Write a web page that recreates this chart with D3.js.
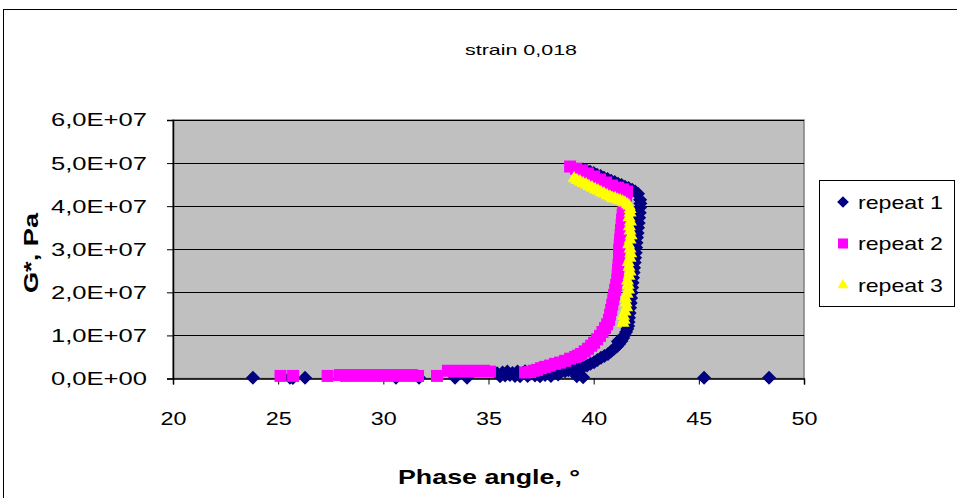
<!DOCTYPE html>
<html>
<head>
<meta charset="utf-8">
<script src="https://cdn.jsdelivr.net/npm/d3@7"></script>
<style>
  body { margin: 0; background: #fff; }
  text { font-family: "Liberation Sans", Arial, sans-serif; fill: #000; }
</style>
</head>
<body>
<svg width="957" height="498"></svg>
<script>
// phase angle (deg), G* (MPa)
var rep1 = [[23.80,0.2],[25.56,0.2],[25.70,0.1],[26.28,0.2],[30.60,0.2],[31.70,0.2],[33.41,0.2],[33.98,0.2],
  [35.41,1.2],[35.55,0.5],[35.67,1.4],[35.79,0.7],[35.90,1.6],[36.02,0.8],[36.14,1.3],[36.26,0.6],[36.38,1.6],[36.50,0.5],
  [36.62,1.2],[36.74,1.7],[36.86,0.6],[36.98,1.1],[37.10,1.6],[37.21,0.7],[37.33,1.3],[37.45,0.5],[37.57,1.6],[37.69,0.8],
  [37.83,1.5],[37.97,0.6],[38.14,1.4],[38.31,0.9],[38.47,1.6],[38.64,1.7],[38.80,1.9],[38.97,2.0],[39.16,2.2],[39.20,0.5],
  [39.35,2.4],[39.50,0.3],[39.52,2.7],[39.69,3.0],[39.85,3.4],[40.02,3.8],[40.18,4.3],[40.35,4.8],[40.51,5.2],[40.68,5.7],
  [40.83,6.3],[40.97,6.9],[41.10,7.4],[41.21,8.0],[41.15,8.6],[41.32,8.7],[41.40,9.4],[41.47,10.1],[41.54,10.8],[41.60,11.5],
  [41.64,12.2],[41.66,13.1],[41.68,14.1],[41.71,15.2],[41.73,16.4],[41.76,17.5],[41.78,18.7],[41.81,19.9],[41.83,21.1],
  [41.85,22.2],[41.87,23.4],[41.90,24.6],[41.92,25.7],[41.95,26.9],[41.97,28.0],[42.00,29.2],[42.02,30.4],[42.04,31.5],
  [42.06,32.7],[42.09,33.8],[42.11,35.0],[42.14,36.1],[42.16,37.3],[42.19,38.5],[42.21,39.7],[42.22,40.6],[42.21,41.5],
  [42.11,42.9],[41.97,43.4],[41.83,43.8],[41.66,44.2],[41.49,44.5],[41.33,44.9],[41.16,45.2],[41.00,45.6],[40.83,45.9],
  [40.66,46.3],[40.49,46.6],[40.33,47.0],[40.16,47.3],[40.00,47.7],[39.83,48.0],[39.66,48.3],[39.50,48.5],
  [45.25,0.2],[48.34,0.2]];

var rep2 = [[25.11,0.6],[25.71,0.6],[27.35,0.6],[27.94,0.8],[28.23,0.6],[28.51,0.8],[28.80,0.6],[29.08,0.8],[29.37,0.6],
  [29.65,0.8],[29.94,0.6],[30.22,0.8],[30.51,0.6],[30.79,0.8],[31.08,0.6],[31.36,0.8],[31.65,0.6],[32.55,0.6],[33.07,1.8],
  [33.36,1.6],[33.64,1.8],[33.93,1.6],[34.21,1.8],[34.50,1.6],[34.78,1.8],[35.07,1.6],
  [36.74,1.4],[36.98,1.5],[37.15,1.8],[37.31,2.0],[37.50,2.4],[37.69,2.7],[37.92,3.0],[38.16,3.4],[38.40,3.7],[38.64,4.1],
  [38.88,4.6],[39.12,5.0],[39.26,5.3],[39.40,5.7],[39.57,6.3],[39.73,6.9],[39.88,7.6],[40.02,8.3],[40.16,9.1],[40.30,9.9],
  [40.42,10.8],[40.54,11.7],[40.64,12.6],[40.73,13.6],[40.78,14.8],[40.83,15.9],[40.88,17.1],[40.93,18.3],[40.97,19.4],
  [41.02,20.6],[41.07,21.7],[41.12,22.9],[41.14,24.0],[41.16,25.2],[41.18,26.4],[41.21,27.6],[41.21,28.8],[41.21,29.9],
  [41.24,31.0],[41.26,32.2],[41.28,33.3],[41.30,34.5],[41.33,35.7],[41.35,36.9],[41.38,38.0],[41.40,39.2],[41.45,40.3],
  [41.49,41.5],[41.54,42.4],[41.59,43.4],
  [41.40,43.9],[41.16,44.3],[40.87,44.8],[40.59,45.5],[40.30,46.2],[40.02,46.9],[39.73,47.6],[39.45,48.3],[39.16,48.7],[38.88,49.2]];

var rep3 = [[39.07,46.4],[39.21,46.0],[39.35,45.7],[39.50,45.3],[39.64,45.0],[39.78,44.6],[39.92,44.3],[40.07,43.9],
  [40.21,43.6],[40.35,43.2],[40.49,42.9],[40.64,42.5],[40.78,42.2],[40.90,41.8],[41.02,41.8],[41.14,41.5],[41.26,41.3],
  [41.38,41.0],[41.49,40.8],[41.60,40.4],[41.68,40.1],[41.73,39.3],[41.73,38.5],[41.68,37.4],[41.75,36.4],[41.70,35.3],
  [41.73,34.3],[41.78,33.2],[41.73,32.2],[41.66,31.1],[41.73,30.1],[41.76,29.0],[41.73,28.0],[41.64,27.0],[41.68,25.9],
  [41.73,24.8],[41.68,23.8],[41.61,22.7],[41.64,21.7],[41.66,20.6],[41.59,19.6],[41.52,18.6],[41.54,17.6],[41.57,16.5],
  [41.49,15.5],[41.42,14.5],[41.45,13.6],[41.40,12.9]];

var seriesNames = ["repeat 1", "repeat 2", "repeat 3"];
var xTicks = [20, 25, 30, 35, 40, 45, 50];
var yTicks = [0, 1e7, 2e7, 3e7, 4e7, 5e7, 6e7];
var yTickLabels = ["0,0E+00", "1,0E+07", "2,0E+07", "3,0E+07", "4,0E+07", "5,0E+07", "6,0E+07"];

var svg = d3.select("svg"),
    plot = {left: 173, right: 804, top: 120, bottom: 378.5};

var x = d3.scaleLinear().domain([20, 50]).range([plot.left, plot.right]);
var y = d3.scaleLinear().domain([0, 6e7]).range([plot.bottom, plot.top]);

// chart border (runs off the right and bottom)
svg.append("rect")
    .attr("x", 3.5).attr("y", 9.5).attr("width", 980).attr("height", 520)
    .attr("fill", "#fff").attr("stroke", "#000");

svg.append("text")
    .attr("x", 521).attr("y", 55)
    .attr("text-anchor", "middle")
    .attr("font-size", 15)
    .attr("textLength", 112).attr("lengthAdjust", "spacingAndGlyphs")
    .text("strain 0,018");

// plot area
svg.append("rect")
    .attr("x", plot.left).attr("y", plot.top)
    .attr("width", plot.right - plot.left).attr("height", plot.bottom - plot.top)
    .attr("fill", "#c0c0c0").attr("stroke", "#808080").attr("stroke-width", 1.5);

svg.append("g")
    .selectAll("line")
    .data(yTicks.slice(1))
    .enter().append("line")
    .attr("x1", plot.left).attr("x2", plot.right)
    .attr("y1", function (d) { return Math.round(y(d)) + 0.5; })
    .attr("y2", function (d) { return Math.round(y(d)) + 0.5; })
    .attr("stroke", "#000");

var yAxis = svg.append("g")
    .attr("transform", "translate(" + plot.left + ",0)")
    .call(d3.axisLeft(y).tickValues(yTicks).tickSize(6).tickPadding(20)
        .tickFormat(function (d, i) { return yTickLabels[i]; }));

var xAxis = svg.append("g")
    .attr("transform", "translate(0," + plot.bottom + ")")
    .call(d3.axisBottom(x).tickValues(xTicks).tickSize(6).tickPadding(27));

[xAxis, yAxis].forEach(function (a) {
    a.select(".domain").attr("stroke", "#000").attr("stroke-width", 1.5);
    a.selectAll(".tick line").attr("stroke", "#000");
    a.selectAll("text")
        .attr("font-family", "Liberation Sans, Arial, sans-serif")
        .attr("font-size", 18.5).attr("fill", "#000");
});
yAxis.selectAll("text").attr("textLength", 96).attr("lengthAdjust", "spacingAndGlyphs");
xAxis.selectAll("text").attr("textLength", 26).attr("lengthAdjust", "spacingAndGlyphs");

svg.append("text")
    .attr("x", 489).attr("y", 484)
    .attr("text-anchor", "middle")
    .attr("font-size", 21).attr("font-weight", "bold")
    .attr("textLength", 182).attr("lengthAdjust", "spacingAndGlyphs")
    .text("Phase angle, °");

svg.append("text")
    .attr("transform", "translate(38,253) rotate(-90)")
    .attr("text-anchor", "middle")
    .attr("font-size", 21).attr("font-weight", "bold")
    .attr("textLength", 80).attr("lengthAdjust", "spacingAndGlyphs")
    .text("G*, Pa");

var colors = ["#000080", "#ff00ff", "#ffff00"];
var symbols = [
    {type: d3.symbolSquare, size: 98, rot: 45},
    {type: d3.symbolSquare, size: 144, rot: 0},
    {type: d3.symbolTriangle, size: 74, rot: 0}
];

[rep1, rep2, rep3].forEach(function (data, i) {
    var sym = d3.symbol().type(symbols[i].type).size(symbols[i].size);
    svg.append("g")
        .selectAll("path")
        .data(data)
        .enter().append("path")
        .attr("d", sym)
        .attr("transform", function (d) {
            return "translate(" + x(d[0]) + "," + y(d[1] * 1e6) + ") rotate(" + symbols[i].rot + ")";
        })
        .attr("fill", colors[i]);
});

// legend
var legend = svg.append("g").attr("transform", "translate(819,180)");
legend.append("rect")
    .attr("x", 0.5).attr("y", 0.5).attr("width", 135).attr("height", 126)
    .attr("fill", "#fff").attr("stroke", "#000");

var item = legend.selectAll(".item")
    .data(seriesNames)
    .enter().append("g")
    .attr("class", "item")
    .attr("transform", function (d, i) { return "translate(0," + (22 + i * 41.5) + ")"; });

item.append("path")
    .attr("d", function (d, i) { return d3.symbol().type(symbols[i].type).size(symbols[i].size * 0.7)(); })
    .attr("transform", function (d, i) { return "translate(24,0) rotate(" + symbols[i].rot + ")"; })
    .attr("fill", function (d, i) { return colors[i]; });

item.append("text")
    .attr("x", 39).attr("y", 6.5)
    .attr("font-size", 18.5)
    .attr("textLength", 85).attr("lengthAdjust", "spacingAndGlyphs")
    .text(function (d) { return d; });
</script>
</body>
</html>
